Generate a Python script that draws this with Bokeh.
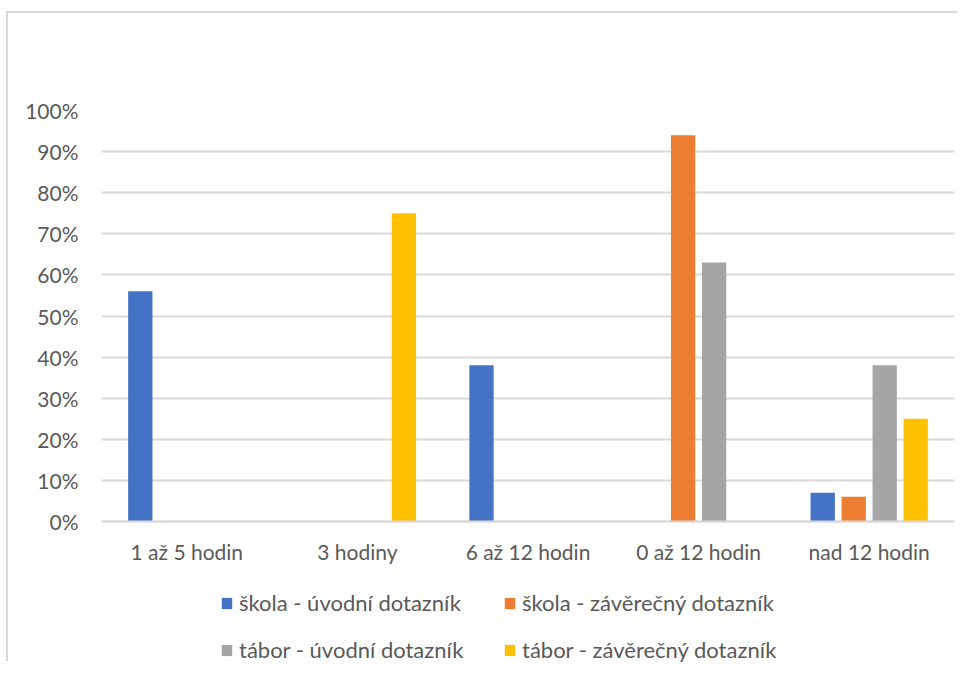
from bokeh.plotting import figure
from bokeh.models import ColumnDataSource, Legend, LegendItem, FixedTicker, CustomJSTickFormatter, Range1d
from bokeh.embed import file_html
from bokeh.resources import INLINE

categories = ["1 až 5 hodin", "3 hodiny", "6 až 12 hodin", "0 až 12 hodin", "nad 12 hodin"]
series_names = ["škola - úvodní dotazník", "škola - závěrečný dotazník",
                "tábor - úvodní dotazník", "tábor - závěrečný dotazník"]
skola_uvodni = [56, 0, 38, 0, 7]
skola_zaverecny = [0, 0, 0, 94, 6]
tabor_uvodni = [0, 0, 0, 63, 38]
tabor_zaverecny = [0, 75, 0, 0, 25]
y_ticks = [0, 10, 20, 30, 40, 50, 60, 70, 80, 90, 100]

colors = ["#4472C4", "#ED7D31", "#A5A5A5", "#FFC000"]
series = [skola_uvodni, skola_zaverecny, tabor_uvodni, tabor_zaverecny]

FONT = "Lato"
FS = "21px"
TXT = "#595959"

W, H = 951, 650
TOP, BOTTOM, LEFT, RIGHT = 97, 0, 93, 5
frame_h = H - TOP - BOTTOM
plot_px = 411.0  # pixels from 0% to 100%
y_start = 100 - frame_h * 100.0 / plot_px

p = figure(width=W, height=H, output_backend="svg", toolbar_location=None,
           x_range=Range1d(0, len(categories)), y_range=Range1d(y_start, 100),
           min_border_left=LEFT, min_border_right=RIGHT, min_border_top=TOP, min_border_bottom=BOTTOM)
p.styles = {"border-top": "2px solid #d9d9d9", "border-left": "2px solid #d9d9d9",
            "margin-top": "11px", "margin-left": "6px"}

offsets = [-1.5, -0.5, 0.5, 1.5]
step = 0.1817
bar_w = 0.1425
items = []
for name, vals, col, off in zip(series_names, series, colors, offsets):
    xs = [i + 0.5 + off * step for i in range(len(categories))]
    src = ColumnDataSource(dict(x=xs, top=vals))
    r = p.vbar(x="x", top="top", bottom=0, width=bar_w, source=src, fill_color=col, line_color=None)
    items.append(LegendItem(label=name, renderers=[r]))

p.outline_line_color = None
p.background_fill_color = "white"
p.border_fill_color = "white"

# y axis
p.yaxis.ticker = FixedTicker(ticks=y_ticks)
p.yaxis.formatter = CustomJSTickFormatter(code="return tick.toFixed(0) + '%';")
p.yaxis.axis_line_color = None
p.yaxis.major_tick_line_color = None
p.yaxis.minor_tick_line_color = None
p.yaxis.major_label_text_font = FONT
p.yaxis.major_label_text_font_size = FS
p.yaxis.major_label_text_color = TXT
p.yaxis.major_label_standoff = 17

# x axis, drawn at the 0% line
p.xaxis.fixed_location = 0
p.xaxis.ticker = FixedTicker(ticks=[i + 0.5 for i in range(len(categories))])
labels_js = "[" + ",".join('"%s"' % c for c in categories) + "]"
p.xaxis.formatter = CustomJSTickFormatter(code="const L = %s; return L[Math.floor(tick)];" % labels_js)
p.xaxis.axis_line_color = "#d9d9d9"
p.xaxis.axis_line_width = 2
p.xaxis.major_tick_line_color = None
p.xaxis.minor_tick_line_color = None
p.xaxis.major_label_text_font = FONT
p.xaxis.major_label_text_font_size = FS
p.xaxis.major_label_text_color = TXT
p.xaxis.major_label_standoff = 11

p.xgrid.grid_line_color = None
p.ygrid.grid_line_color = "#d9d9d9"
p.ygrid.grid_line_width = 2

legend = Legend(items=items, location=(119, 0), orientation="horizontal", ncols=2,
                label_text_font=FONT, label_text_font_size="22px", label_text_color=TXT,
                glyph_width=13, glyph_height=14, label_standoff=6, spacing=20, label_width=244,
                padding=0, margin=0, border_line_color=None, background_fill_alpha=0)
p.add_layout(legend, "center")

open("out.html", "w").write(file_html(p, INLINE))
